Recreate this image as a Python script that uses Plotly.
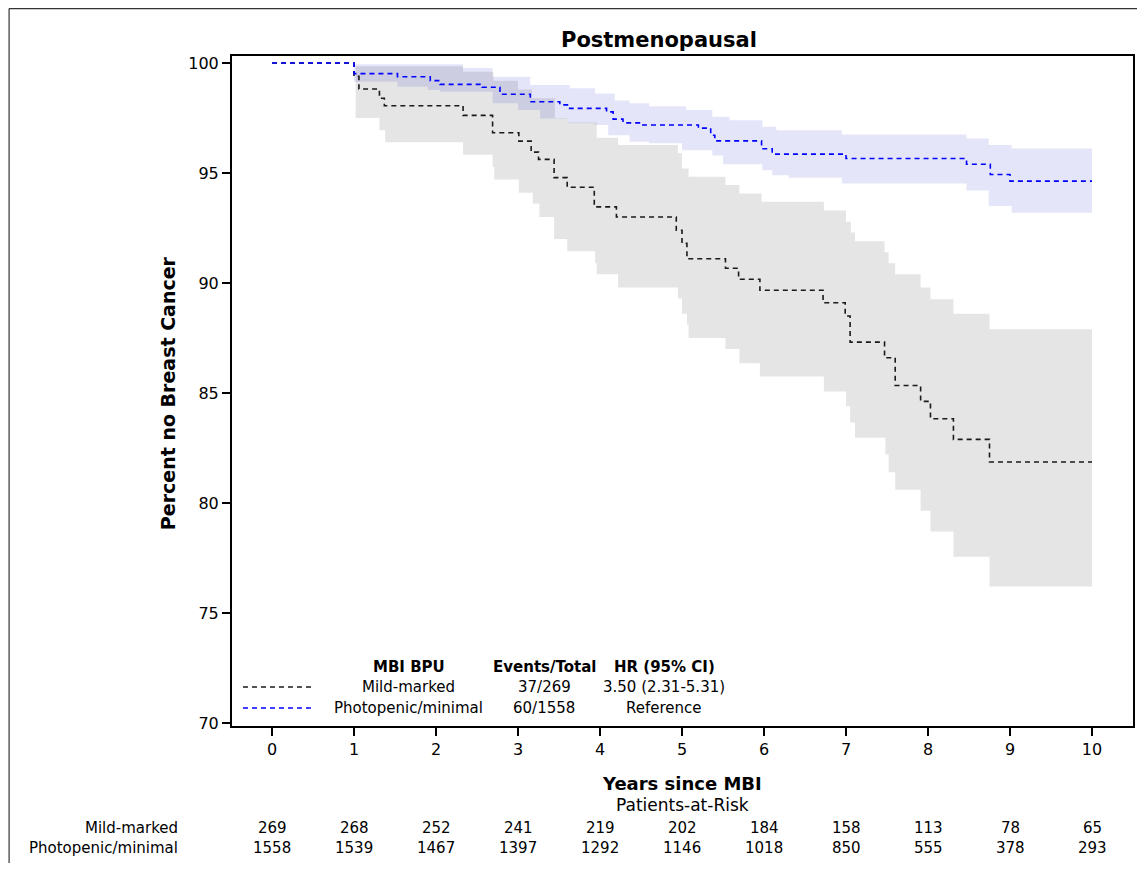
import plotly.graph_objects as go

# ---------------- data ----------------
mild_t = [0, 1.0, 1.06, 1.31, 1.37, 2.33, 2.69, 3.01, 3.16, 3.25, 3.44, 3.6, 3.93, 4.2, 4.93, 5.0,
          5.06, 5.53, 5.69, 5.95, 6.72, 6.99, 7.05, 7.47, 7.6, 7.91, 8.03, 8.31, 8.75, 10.0]
mild_s = [100, 99.4, 98.82, 98.4, 98.06, 97.62, 96.83, 96.45, 95.95, 95.62, 94.79, 94.35, 93.46, 93.0,
          92.4, 91.8, 91.1, 90.67, 90.17, 89.67, 89.1, 88.5, 87.31, 86.6, 85.34, 84.62, 83.83, 82.89,
          81.86, 81.86]

mild_up_t = [1.02, 2.33, 2.7, 3.0, 3.17, 3.45, 3.6, 3.96, 4.22, 4.95, 5.0, 5.08, 5.53, 5.7, 5.97, 6.73,
             7.0, 7.06, 7.11, 7.47, 7.52, 7.6, 7.91, 8.03, 8.31, 8.75, 10.0]
mild_up = [99.85, 99.6, 99.2, 98.8, 98.4, 97.5, 97.3, 96.6, 96.27, 95.9, 95.2, 94.83, 94.45, 94.07, 93.69,
           93.3, 92.78, 92.3, 91.9, 91.4, 90.9, 90.4, 89.8, 89.26, 88.6, 87.9, 87.9]
mild_lo_t = [1.02, 1.31, 1.38, 2.33, 2.69, 2.71, 3.01, 3.18, 3.26, 3.44, 3.6, 3.94, 3.96, 4.22, 4.95, 5.0,
             5.06, 5.08, 5.53, 5.7, 5.95, 6.73, 7.0, 7.05, 7.11, 7.48, 7.52, 7.6, 7.91, 8.03, 8.31, 8.75, 10.0]
mild_lo = [97.5, 96.95, 96.4, 95.83, 95.27, 94.7, 94.1, 93.6, 93.0, 92.0, 91.44, 90.9, 90.4, 89.8, 89.3,
           88.6, 88.1, 87.5, 87.0, 86.35, 85.75, 85.07, 84.4, 83.66, 82.97, 82.2, 81.4, 80.6, 79.65, 78.7,
           77.56, 76.2, 76.2]

photo_t = [0, 1.0, 1.53, 1.93, 2.05, 2.56, 2.78, 3.15, 3.51, 3.63, 4.08, 4.16, 4.28, 4.5, 5.2, 5.35,
           5.4, 5.97, 6.1, 7.0, 8.47, 8.76, 9.0, 10.0]
photo_s = [100, 99.52, 99.38, 99.2, 99.03, 98.9, 98.58, 98.24, 98.1, 97.94, 97.78, 97.45, 97.28, 97.18,
           97.04, 96.72, 96.46, 96.1, 95.86, 95.66, 95.4, 94.93, 94.63, 94.63]

photo_up_t = [1.0, 2.33, 2.69, 3.15, 3.63, 3.94, 4.18, 4.36, 4.6, 5.05, 5.37, 5.58, 5.98, 6.15, 6.95,
              8.47, 8.74, 9.02, 10.0]
photo_up = [99.95, 99.77, 99.38, 99.0, 98.85, 98.62, 98.3, 98.17, 98.04, 97.86, 97.56, 97.4, 97.1, 96.95,
            96.75, 96.57, 96.27, 96.12, 96.12]
photo_lo_t = [1.0, 1.53, 1.9, 2.05, 2.69, 3.0, 3.27, 3.6, 3.94, 4.1, 4.36, 4.6, 5.0, 5.37, 5.5, 5.98,
              6.1, 6.3, 6.95, 8.47, 8.74, 9.02, 10.0]
photo_lo = [99.15, 98.92, 98.77, 98.7, 98.17, 97.86, 97.48, 97.26, 97.18, 96.72, 96.42, 96.35, 96.04,
            95.8, 95.4, 95.13, 94.9, 94.78, 94.52, 94.2, 93.5, 93.19, 93.19]

risk_years = [0, 1, 2, 3, 4, 5, 6, 7, 8, 9, 10]
risk_mild = [269, 268, 252, 241, 219, 202, 184, 158, 113, 78, 65]
risk_photo = [1558, 1539, 1467, 1397, 1292, 1146, 1018, 850, 555, 378, 293]

group_names = ["Mild-marked", "Photopenic/minimal"]
events_total = ["37/269", "60/1558"]
hr_text = ["3.50 (2.31-5.31)", "Reference"]
y_ticks = [70, 75, 80, 85, 90, 95, 100]

FONT = "DejaVu Sans"
BLACK = "#1a1a1a"
BLUE = "#0000ff"
DASH = "5px,4px"

fig = go.Figure()

# CI bands
fig.add_trace(go.Scatter(x=mild_lo_t, y=mild_lo, mode="lines", line=dict(width=0, shape="hv"),
                         hoverinfo="skip", showlegend=False))
fig.add_trace(go.Scatter(x=mild_up_t, y=mild_up, mode="lines", line=dict(width=0, shape="hv"),
                         fill="tonexty", fillcolor="rgba(0,0,0,0.1)", hoverinfo="skip", showlegend=False))
fig.add_trace(go.Scatter(x=photo_lo_t, y=photo_lo, mode="lines", line=dict(width=0, shape="hv"),
                         hoverinfo="skip", showlegend=False))
fig.add_trace(go.Scatter(x=photo_up_t, y=photo_up, mode="lines", line=dict(width=0, shape="hv"),
                         fill="tonexty", fillcolor="rgba(0,0,200,0.1)", hoverinfo="skip", showlegend=False))

# survival curves
fig.add_trace(go.Scatter(x=mild_t, y=mild_s, mode="lines", name=group_names[0],
                         line=dict(color=BLACK, width=1.6, dash=DASH, shape="hv"), showlegend=False))
fig.add_trace(go.Scatter(x=photo_t, y=photo_s, mode="lines", name=group_names[1],
                         line=dict(color=BLUE, width=1.6, dash=DASH, shape="hv"), showlegend=False))

# geometry (page has an 8px body margin; positions below are given in page pixels)
OFF = 8
W, H = 1131, 855
L, T = 232 - OFF, 56 - OFF
R = W - (1135 - OFF)
B = H - (726 - OFF)
PW, PH = W - L - R, H - T - B


def px(x):
    return (x - OFF - L) / PW


def py(y):
    return (H - B - (y - OFF)) / PH


ann = []
ann.append(dict(text="<b>Postmenopausal</b>", x=px(660), y=py(40), xref="paper", yref="paper",
                showarrow=False, font=dict(family=FONT, size=21, color="black"), xanchor="center",
                yanchor="middle"))
ann.append(dict(text="<b>Percent no Breast Cancer</b>", x=px(168), y=py(393), xref="paper", yref="paper",
                showarrow=False, textangle=-90, font=dict(family=FONT, size=19, color="black"),
                xanchor="center", yanchor="middle"))
ann.append(dict(text="<b>Years since MBI</b>", x=px(683), y=py(783), xref="paper", yref="paper",
                showarrow=False, font=dict(family=FONT, size=18, color="black"), xanchor="center",
                yanchor="middle"))
ann.append(dict(text="Patients-at-Risk", x=px(683), y=py(805), xref="paper", yref="paper",
                showarrow=False, font=dict(family=FONT, size=17, color="black"), xanchor="center",
                yanchor="middle"))

# at-risk table
for row, (name, vals) in enumerate(zip(group_names, [risk_mild, risk_photo])):
    yy = py(828 + 20 * row)
    ann.append(dict(text=name, x=px(180), y=yy, xref="paper", yref="paper", showarrow=False,
                    font=dict(family=FONT, size=15, color="black"), xanchor="right", yanchor="middle"))
    for t, v in zip(risk_years, vals):
        ann.append(dict(text=str(v), x=t, y=yy, xref="x", yref="paper", showarrow=False,
                        font=dict(family=FONT, size=15, color="black"), xanchor="center",
                        yanchor="middle"))

# in-plot legend table
cols = [px(409), px(545), px(665)]
headers = ["<b>MBI BPU</b>", "<b>Events/Total</b>", "<b>HR (95% CI)</b>"]
for cx, h in zip(cols, headers):
    ann.append(dict(text=h, x=cx, y=py(667), xref="paper", yref="paper", showarrow=False,
                    font=dict(family=FONT, size=15, color="black"), xanchor="center", yanchor="middle"))
shapes = []
for i, color in enumerate([BLACK, BLUE]):
    yy = py(687 + 21 * i)
    for cx, txt in zip(cols, [group_names[i], events_total[i], hr_text[i]]):
        ann.append(dict(text=txt, x=cx, y=yy, xref="paper", yref="paper", showarrow=False,
                        font=dict(family=FONT, size=15, color="black"), xanchor="center",
                        yanchor="middle"))
    shapes.append(dict(type="line", xref="paper", yref="paper", x0=px(243), x1=px(315), y0=yy, y1=yy,
                       line=dict(color=color, width=1.4, dash="5px,4px")))

# outer border (left and top)
shapes.append(dict(type="line", xref="paper", yref="paper", x0=px(8.6), x1=px(8.6), y0=py(8.6), y1=py(863),
                   line=dict(color="#333", width=1.2)))
shapes.append(dict(type="line", xref="paper", yref="paper", x0=px(8.6), x1=px(1139), y0=py(8.6), y1=py(8.6),
                   line=dict(color="#333", width=1.2)))

fig.update_layout(
    width=W, height=H,
    margin=dict(l=L, r=R, t=T, b=B, pad=0),
    paper_bgcolor="white", plot_bgcolor="white",
    font=dict(family=FONT, size=16, color="black"),
    annotations=ann, shapes=shapes,
    showlegend=False,
)
fig.update_xaxes(range=[-0.488, 10.5], tickvals=risk_years, ticktext=[str(v) for v in risk_years],
                 ticks="outside", ticklen=8, tickwidth=1.5, tickcolor="black",
                 showline=True, linewidth=2, linecolor="black", mirror=True,
                 showgrid=False, zeroline=False, tickfont=dict(family=FONT, size=16))
fig.update_yaxes(range=[69.86, 100.32], tickvals=y_ticks, ticktext=[str(v) for v in y_ticks],
                 ticks="outside", ticklen=8, tickwidth=1.5, tickcolor="black",
                 showline=True, linewidth=2, linecolor="black", mirror=True,
                 showgrid=False, zeroline=False, tickfont=dict(family=FONT, size=16))

fig.write_html("out.html")
